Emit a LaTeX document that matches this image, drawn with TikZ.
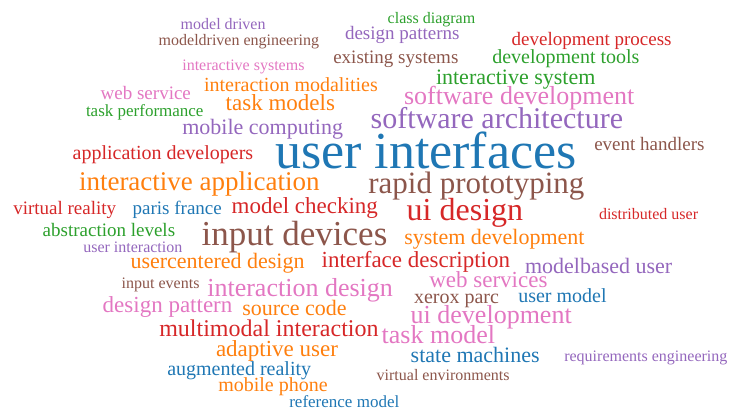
\documentclass[tikz,border=0pt]{standalone}
\usepackage{fontspec}
\newfontfamily\fa{Liberation Serif}
\definecolor{cblue}{HTML}{1F77B4}
\definecolor{corange}{HTML}{FF7F0E}
\definecolor{cgreen}{HTML}{2CA02C}
\definecolor{cred}{HTML}{D62728}
\definecolor{cpurple}{HTML}{9467BD}
\definecolor{cbrown}{HTML}{8C564B}
\definecolor{cpink}{HTML}{E377C2}
\tikzset{cloudword/.style={inner sep=0pt, outer sep=0pt, anchor=base west}}
\begin{document}
\begin{tikzpicture}
\useasboundingbox (0,0) rectangle (735pt,-414pt);
\node[cloudword] (w1) at (180.7pt,-29.3pt) {\color{cpurple}\fontsize{16}{20}\selectfont\fa model driven};
\node[cloudword] (w2) at (158.7pt,-46pt) {\color{cbrown}\fontsize{16}{20}\selectfont\fa modeldriven engineering};
\node[cloudword] (w3) at (182.3pt,-70.7pt) {\color{cpink}\fontsize{16}{20}\selectfont\fa interactive systems};
\node[cloudword] (w4) at (204pt,-91.7pt) {\color{corange}\fontsize{20}{24}\selectfont\fa interaction modalities};
\node[cloudword] (w5) at (100.7pt,-99.3pt) {\color{cpink}\fontsize{19}{23}\selectfont\fa web service};
\node[cloudword] (w6) at (225.7pt,-111pt) {\color{corange}\fontsize{23}{27}\selectfont\fa task models};
\node[cloudword] (w7) at (86pt,-116.7pt) {\color{cgreen}\fontsize{17}{21}\selectfont\fa task performance};
\node[cloudword] (w8) at (182.3pt,-135pt) {\color{cpurple}\fontsize{22}{26}\selectfont\fa mobile computing};
\node[cloudword] (w9) at (387.7pt,-24pt) {\color{cgreen}\fontsize{16}{20}\selectfont\fa class diagram};
\node[cloudword] (w10) at (345pt,-40pt) {\color{cpurple}\fontsize{19}{23}\selectfont\fa design patterns};
\node[cloudword] (w11) at (511.7pt,-46pt) {\color{cred}\fontsize{19}{23}\selectfont\fa development process};
\node[cloudword] (w12) at (333.3pt,-64pt) {\color{cbrown}\fontsize{19}{23}\selectfont\fa existing systems};
\node[cloudword] (w13) at (492.3pt,-64pt) {\color{cgreen}\fontsize{20}{24}\selectfont\fa development tools};
\node[cloudword] (w14) at (436pt,-85pt) {\color{cgreen}\fontsize{22}{26}\selectfont\fa interactive system};
\node[cloudword] (w15) at (404pt,-104.3pt) {\color{cpink}\fontsize{26}{30}\selectfont\fa software development};
\node[cloudword] (w16) at (370.7pt,-128.3pt) {\color{cpurple}\fontsize{30}{34}\selectfont\fa software architecture};
\node[cloudword] (w17) at (72.7pt,-160pt) {\color{cred}\fontsize{20}{24}\selectfont\fa application developers};
\node[cloudword] (w18) at (275pt,-168pt) {\color{cblue}\fontsize{52}{56}\selectfont\fa user interfaces};
\node[cloudword] (w19) at (594.3pt,-150.7pt) {\color{cbrown}\fontsize{19}{23}\selectfont\fa event handlers};
\node[cloudword] (w20) at (79pt,-190pt) {\color{corange}\fontsize{27}{31}\selectfont\fa interactive application};
\node[cloudword] (w21) at (368.3pt,-193.5pt) {\color{cbrown}\fontsize{31}{35}\selectfont\fa rapid prototyping};
\node[cloudword] (w22) at (13.3pt,-214pt) {\color{cred}\fontsize{19}{23}\selectfont\fa virtual reality};
\node[cloudword] (w23) at (132.7pt,-214pt) {\color{cblue}\fontsize{19}{23}\selectfont\fa paris france};
\node[cloudword] (w24) at (231.7pt,-213.3pt) {\color{cred}\fontsize{23}{27}\selectfont\fa model checking};
\node[cloudword] (w25) at (406.7pt,-220.7pt) {\color{cred}\fontsize{32}{36}\selectfont\fa ui design};
\node[cloudword] (w26) at (599pt,-219.3pt) {\color{cred}\fontsize{16}{20}\selectfont\fa distributed user};
\node[cloudword] (w27) at (42.7pt,-236pt) {\color{cgreen}\fontsize{19}{23}\selectfont\fa abstraction levels};
\node[cloudword] (w28) at (201.7pt,-245.5pt) {\color{cbrown}\fontsize{35}{39}\selectfont\fa input devices};
\node[cloudword] (w29) at (404.3pt,-244pt) {\color{corange}\fontsize{22}{26}\selectfont\fa system development};
\node[cloudword] (w30) at (83.3pt,-252.7pt) {\color{cpurple}\fontsize{16}{20}\selectfont\fa user interaction};
\node[cloudword] (w31) at (130.5pt,-268.3pt) {\color{corange}\fontsize{22}{26}\selectfont\fa usercentered design};
\node[cloudword] (w32) at (321.7pt,-267.3pt) {\color{cred}\fontsize{23}{27}\selectfont\fa interface description};
\node[cloudword] (w33) at (525pt,-273.3pt) {\color{cpurple}\fontsize{22}{26}\selectfont\fa modelbased user};
\node[cloudword] (w34) at (121.7pt,-288.3pt) {\color{cbrown}\fontsize{16}{20}\selectfont\fa input events};
\node[cloudword] (w35) at (207.3pt,-296.5pt) {\color{cpink}\fontsize{26}{30}\selectfont\fa interaction design};
\node[cloudword] (w36) at (429.3pt,-287.8pt) {\color{cpink}\fontsize{23}{27}\selectfont\fa web services};
\node[cloudword] (w37) at (102.7pt,-312.3pt) {\color{cpink}\fontsize{23}{27}\selectfont\fa design pattern};
\node[cloudword] (w38) at (242.3pt,-315pt) {\color{corange}\fontsize{22}{26}\selectfont\fa source code};
\node[cloudword] (w39) at (414pt,-303.3pt) {\color{cbrown}\fontsize{20}{24}\selectfont\fa xerox parc};
\node[cloudword] (w40) at (518.3pt,-302.7pt) {\color{cblue}\fontsize{20}{24}\selectfont\fa user model};
\node[cloudword] (w41) at (410.7pt,-323.3pt) {\color{cpink}\fontsize{26}{30}\selectfont\fa ui development};
\node[cloudword] (w42) at (159.3pt,-336pt) {\color{cred}\fontsize{24}{28}\selectfont\fa multimodal interaction};
\node[cloudword] (w43) at (381.7pt,-343.3pt) {\color{cpink}\fontsize{26}{30}\selectfont\fa task model};
\node[cloudword] (w44) at (216pt,-356pt) {\color{corange}\fontsize{23}{27}\selectfont\fa adaptive user};
\node[cloudword] (w45) at (410.7pt,-362.7pt) {\color{cblue}\fontsize{22}{26}\selectfont\fa state machines};
\node[cloudword] (w46) at (564.3pt,-361pt) {\color{cpurple}\fontsize{16}{20}\selectfont\fa requirements engineering};
\node[cloudword] (w47) at (167.3pt,-375pt) {\color{cblue}\fontsize{20}{24}\selectfont\fa augmented reality};
\node[cloudword] (w48) at (376.7pt,-380.7pt) {\color{cbrown}\fontsize{16}{20}\selectfont\fa virtual environments};
\node[cloudword] (w49) at (218.3pt,-391pt) {\color{corange}\fontsize{20}{24}\selectfont\fa mobile phone};
\node[cloudword] (w50) at (289.3pt,-407.7pt) {\color{cblue}\fontsize{17}{21}\selectfont\fa reference model};
\end{tikzpicture}
\end{document}
